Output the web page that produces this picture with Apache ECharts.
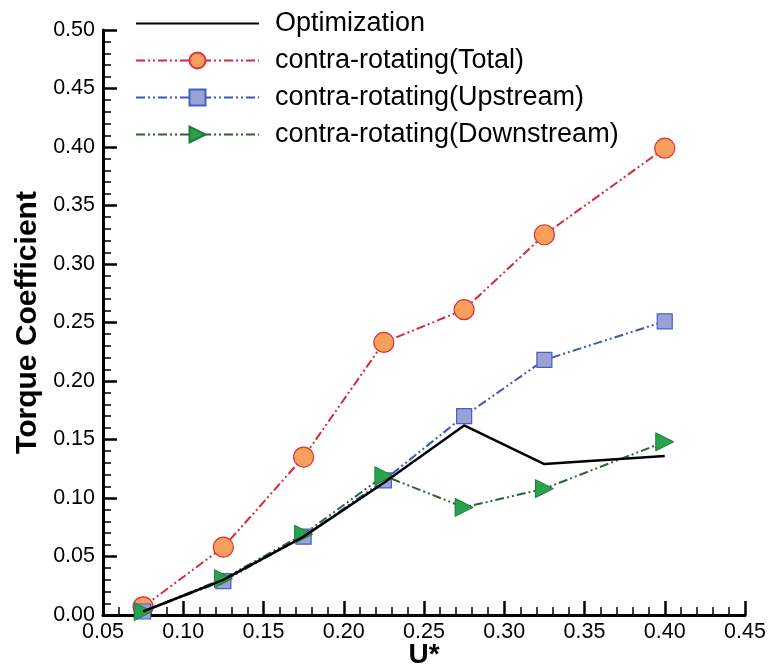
<!DOCTYPE html>
<html>
<head>
<meta charset="utf-8">
<script src="https://cdn.jsdelivr.net/npm/echarts@6/dist/echarts.min.js"></script>
<style>
  html, body { margin: 0; padding: 0; background: #fff; }
  #chart { width: 771px; height: 667px; }
</style>
</head>
<body>
<div id="chart"></div>
<script>
// Flow speed U* sampled at each case
var uStar = [0.075, 0.125, 0.175, 0.225, 0.275, 0.325, 0.4];

// Torque coefficient per configuration
var optimization = [0.003, 0.030, 0.067, 0.113, 0.162, 0.129, 0.136];
var totalCR      = [0.007, 0.058, 0.135, 0.233, 0.261, 0.325, 0.399];
var upstreamCR   = [0.003, 0.029, 0.067, 0.115, 0.170, 0.218, 0.251];
var downstreamCR = [0.003, 0.031, 0.069, 0.119, 0.092, 0.108, 0.148];

var seriesNames = [
  'Optimization',
  'contra-rotating(Total)',
  'contra-rotating(Upstream)',
  'contra-rotating(Downstream)'
];

function pairs(ys) {
  return uStar.map(function (x, i) { return [x, ys[i]]; });
}

var dashDotDot = [9, 3, 2, 3, 2, 3];
var font = 'Liberation Sans, Arial, sans-serif';

var chart = echarts.init(document.getElementById('chart'), null, { renderer: 'canvas' });

function axisCommon() {
  return {
    nameMoveOverlap: false,
    axisLine: { show: true, onZero: false, lineStyle: { color: '#000', width: 3 } },
    axisTick: { show: true, inside: true, length: 14, lineStyle: { color: '#000', width: 2.5 } },
    minorTick: { show: true, splitNumber: 5, length: 8, lineStyle: { color: '#000', width: 1.5 } },
    splitLine: { show: false },
    axisLabel: {
      color: '#000', fontFamily: font, fontSize: 21.5,
      formatter: function (v) { return v.toFixed(2); }
    }
  };
}

var xAxis = axisCommon();
Object.assign(xAxis, {
  type: 'value', min: 0.05, max: 0.45, interval: 0.05,
  name: 'U*', nameLocation: 'middle', nameGap: 26,
  nameTextStyle: { color: '#000', fontFamily: font, fontSize: 28, fontWeight: 'bold' }
});
xAxis.axisLabel.margin = 6;

var yAxis = axisCommon();
Object.assign(yAxis, {
  type: 'value', min: 0, max: 0.5, interval: 0.05,
  name: 'Torque Coefficient', nameLocation: 'middle', nameGap: 60,
  nameTextStyle: { color: '#000', fontFamily: font, fontSize: 30, fontWeight: 'bold' }
});
yAxis.axisLabel.margin = 8;

var option = {
  backgroundColor: '#fff',
  animation: false,
  grid: { left: 103, right: 26, top: 30, bottom: 52, containLabel: false, outerBoundsMode: 'none' },
  legend: {
    orient: 'vertical',
    left: 130,
    top: 5,
    itemWidth: 123,
    itemHeight: 20,
    itemGap: 10,
    textStyle: { color: '#000', fontFamily: font, fontSize: 27, padding: [0, 0, 0, 11] },
    data: [
      { name: seriesNames[0], itemStyle: { opacity: 0 } },
      seriesNames[1],
      seriesNames[2],
      seriesNames[3]
    ]
  },
  xAxis: xAxis,
  yAxis: yAxis,
  series: [
    {
      name: seriesNames[1], type: 'line', data: pairs(totalCR), z: 3,
      symbol: 'circle', symbolSize: 20,
      itemStyle: { color: '#f7a05c', borderColor: '#e0303a', borderWidth: 1.2 },
      lineStyle: { color: '#d42a35', width: 2, type: dashDotDot }
    },
    {
      name: seriesNames[2], type: 'line', data: pairs(upstreamCR), z: 3,
      symbol: 'rect', symbolSize: 15,
      itemStyle: { color: '#9aa1d6', borderColor: '#4262c2', borderWidth: 1.2 },
      lineStyle: { color: '#3a58bc', width: 2, type: dashDotDot }
    },
    {
      name: seriesNames[3], type: 'line', data: pairs(downstreamCR), z: 4,
      symbol: 'triangle', symbolSize: 18, symbolRotate: -90,
      itemStyle: { color: '#28a24e', borderColor: '#1f7a3a', borderWidth: 1 },
      lineStyle: { color: '#2b6432', width: 2, type: dashDotDot }
    },
    {
      name: seriesNames[0], type: 'line', data: pairs(optimization), z: 5,
      symbol: 'none',
      itemStyle: { color: '#000' },
      lineStyle: { color: '#000', width: 2.5, type: 'solid' }
    }
  ]
};

chart.setOption(option);
</script>
</body>
</html>
